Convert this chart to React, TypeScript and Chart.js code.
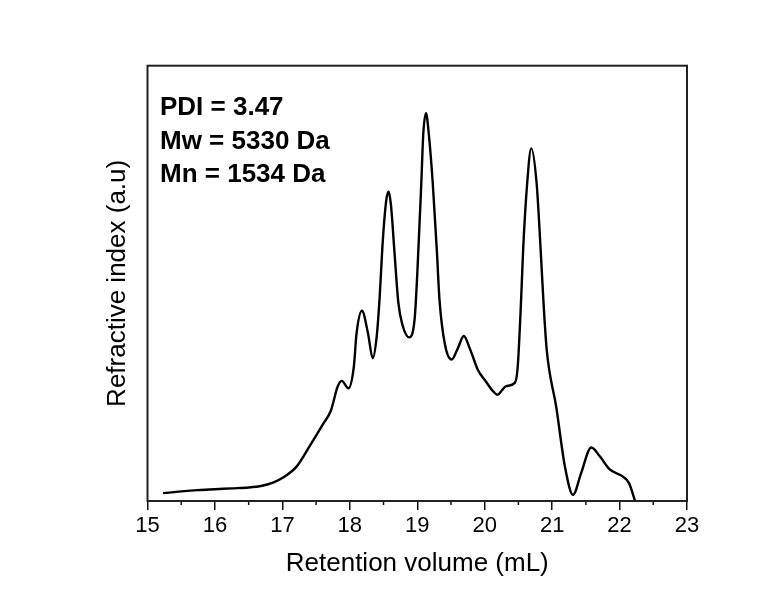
import React, { useEffect, useRef } from "react";
import { Chart, registerables } from "chart.js";

Chart.register(...registerables);

const retentionVolume: number[] = [
  15.23, 15.5, 15.75, 16.0, 16.25, 16.5, 16.7, 16.86, 17.01, 17.21, 17.4, 17.6, 17.72, 17.82, 17.88,
  17.98, 18.06, 18.1, 18.18, 18.27, 18.34, 18.4, 18.44, 18.49, 18.54, 18.575, 18.61, 18.66, 18.72,
  18.78, 18.88, 18.96, 19.0, 19.06, 19.09, 19.13, 19.17, 19.23, 19.29, 19.33, 19.41, 19.51, 19.6,
  19.69, 19.78, 19.9, 20.02, 20.12, 20.19, 20.26, 20.32, 20.45, 20.49, 20.54, 20.57, 20.63, 20.69,
  20.77, 20.83, 20.87, 20.92, 21.06, 21.19, 21.31, 21.43, 21.58, 21.71, 21.85, 22.05, 22.14, 22.23,
];

const refractiveIndex: number[] = [
  1.8, 2.2, 2.5, 2.7, 2.9, 3.1, 3.5, 4.2, 5.4, 7.9, 12.5, 17.6, 20.8, 26.3, 27.6,
  25.9, 30.9, 38.5, 43.7, 38.5, 32.8, 38.0, 46.2, 60, 69, 71.1, 68, 57.7, 45.5,
  40.5, 37.6, 41.6, 52, 73, 84.5, 89.1, 84.5, 73, 57.7, 46.2, 36, 32.5, 35,
  37.9, 35, 30.1, 27.4, 25.3, 24.4, 25.5, 26.4, 27.2, 30.9, 46.2, 57.7, 73, 81,
  73, 57.7, 46.2, 34.7, 21.7, 7.9, 1.4, 6.4, 12.3, 10.2, 7.3, 5.6, 4.1, 0,
];

const xTickValues: number[] = [15, 16, 17, 18, 19, 20, 21, 22, 23];
const xMinorTickValues: number[] = [15.5, 16.5, 17.5, 18.5, 19.5, 20.5, 21.5, 22.5];
const annotationLines: string[] = ["PDI = 3.47", "Mw = 5330 Da", "Mn = 1534 Da"];

const FONT = "'Liberation Sans', Arial, sans-serif";

const boxPlugin = {
  id: "boxAndExtras",
  afterDraw(chart: any) {
    const { ctx, chartArea } = chart;
    const xs = chart.scales.x;
    ctx.save();
    ctx.strokeStyle = "#111";
    ctx.lineWidth = 1.5;
    xMinorTickValues.forEach((v) => {
      const px = xs.getPixelForValue(v);
      ctx.beginPath();
      ctx.moveTo(px, chartArea.bottom);
      ctx.lineTo(px, chartArea.bottom + 4);
      ctx.stroke();
    });
    ctx.strokeStyle = "#222";
    ctx.lineWidth = 2;
    ctx.strokeRect(chartArea.left, chartArea.top, chartArea.right - chartArea.left, chartArea.bottom - chartArea.top);
    ctx.fillStyle = "#000";
    ctx.font = `bold 26px ${FONT}`;
    ctx.textAlign = "left";
    ctx.textBaseline = "alphabetic";
    annotationLines.forEach((t, i) => {
      ctx.fillText(t, chartArea.left + 12.5, chartArea.top + 49.5 + i * 33.5);
    });
    ctx.restore();
  },
};

export default function App() {
  const canvasRef = useRef<HTMLCanvasElement | null>(null);

  useEffect(() => {
    if (!canvasRef.current) return;
    const data = retentionVolume.map((x, i) => ({ x, y: refractiveIndex[i] }));
    const chart = new Chart(canvasRef.current, {
      type: "line",
      data: {
        datasets: [
          {
            data,
            borderColor: "#000",
            borderWidth: 2.4,
            pointRadius: 0,
            fill: false,
            cubicInterpolationMode: "monotone",
          },
        ],
      },
      options: {
        animation: false,
        responsive: true,
        maintainAspectRatio: false,
        layout: { padding: { top: 57.7, right: 88, left: 0, bottom: 0 } },
        plugins: { legend: { display: false }, tooltip: { enabled: false } },
        scales: {
          x: {
            type: "linear",
            min: 15,
            max: 23,
            afterBuildTicks: (scale: any) => {
              scale.ticks = xTickValues.map((v) => ({ value: v }));
            },
            afterFit: (scale: any) => {
              scale.height = 90;
            },
            ticks: {
              color: "#000",
              font: { family: FONT, size: 22 },
              padding: 3,
              maxRotation: 0,
              autoSkip: false,
            },
            grid: {
              display: true,
              drawOnChartArea: false,
              drawTicks: true,
              tickLength: 9,
              color: "#111",
              lineWidth: 1.5,
            },
            border: { display: false },
            title: {
              display: true,
              text: "Retention volume (mL)",
              color: "#000",
              font: { family: FONT, size: 26 },
              padding: { top: 0, bottom: 11.4 },
            },
          },
          y: {
            type: "linear",
            min: 0,
            max: 100,
            afterFit: (scale: any) => {
              scale.width = 139.5;
            },
            ticks: { display: false },
            grid: { display: false },
            border: { display: false },
            title: {
              display: true,
              text: "Refractive index (a.u)",
              color: "#000",
              font: { family: FONT, size: 26 },
              padding: { top: 93.9, bottom: 0 },
            },
          },
        },
      },
      plugins: [boxPlugin],
    } as any);
    return () => chart.destroy();
  }, []);

  return (
    <div style={{ width: 767, height: 583, position: "relative", background: "#fff" }}>
      <canvas ref={canvasRef} />
    </div>
  );
}
